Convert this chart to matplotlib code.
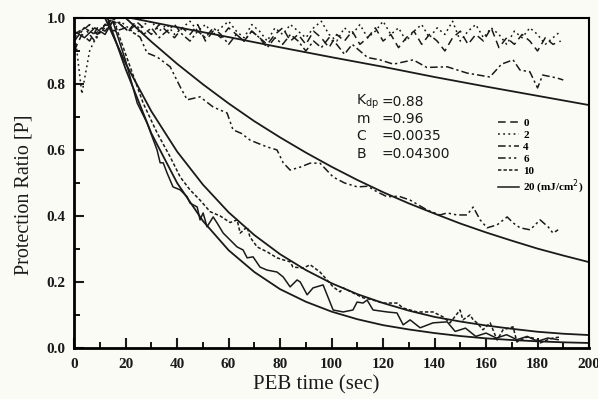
import numpy as np
import matplotlib
matplotlib.use('Agg')
import matplotlib.pyplot as plt
from matplotlib.ticker import MultipleLocator

# ------------------------------------------------------------------------
#### measured data (PEB time in sec, protection ratio)
t_0 = [0, 3, 6, 9, 12, 15, 18, 21, 24, 27, 30, 33, 36, 39, 42, 45, 48, 51, 54, 57,
       60, 63, 66, 69, 72, 75, 78, 81, 84, 87, 90, 93, 96, 99, 102, 105, 108, 111, 114, 117,
       120, 123, 126, 129, 132, 135, 138, 141, 144, 147, 150, 153, 156, 159, 162, 165, 168, 171, 174, 177,
       180, 183, 186, 189]
p_0 = [0.90, 0.95, 0.93, 0.97, 0.96, 0.99, 0.98, 0.96, 0.99, 0.97,
       0.95, 0.98, 0.96, 0.94, 0.97, 0.95, 0.98, 0.93, 0.96, 0.94,
       0.97, 0.95, 0.93, 0.96, 0.94, 0.92, 0.95, 0.97, 0.93, 0.95,
       0.92, 0.96, 0.94, 0.91, 0.95, 0.93, 0.96, 0.92, 0.94, 0.97,
       0.93, 0.95, 0.91, 0.94, 0.96, 0.92, 0.95, 0.93, 0.90, 0.94,
       0.96, 0.92, 0.95, 0.93, 0.97, 0.91, 0.94, 0.92, 0.95, 0.93,
       0.90, 0.94, 0.92, 0.93]

t_2 = t_0
p_2 = [0.97, 0.77, 0.90, 0.95, 0.98, 0.96, 0.99, 0.97, 0.95, 0.98,
       0.99, 0.96, 0.98, 0.95, 0.97, 0.99, 0.96, 0.98, 0.95, 0.97,
       0.99, 0.96, 0.94, 0.98, 0.96, 0.93, 0.97, 0.95, 0.98, 0.96,
       0.94, 0.97, 0.99, 0.95, 0.93, 0.97, 0.95, 0.98, 0.94, 0.96,
       0.99, 0.95, 0.97, 0.93, 0.96, 0.98, 0.94, 0.97, 0.95, 0.99,
       0.93, 0.96, 0.98, 0.94, 0.97, 0.95, 0.92, 0.96, 0.94, 0.97,
       0.95, 0.92, 0.94, 0.96]

t_4 = [0, 3, 6, 9, 12, 15, 18, 21, 24, 27, 30, 33, 36, 39, 42, 45, 48, 51, 54, 57,
       60, 63, 66, 69, 72, 75, 78, 81, 84, 87, 90, 93, 96, 99, 102, 105, 108, 111, 114,
       118.8, 124, 131.7, 137, 144.9, 152.6, 161.5, 166, 170.5, 173.2, 177, 180, 182, 187.6, 190]
p_4 = [0.93, 0.96, 0.98, 0.95, 0.97, 1.00, 0.98, 0.96, 0.98, 0.95,
       0.97, 0.94, 0.96, 0.98, 0.95, 0.93, 0.96, 0.94, 0.97, 0.95,
       0.92, 0.95, 0.93, 0.96, 0.94, 0.91, 0.94, 0.92, 0.95, 0.93,
       0.90, 0.93, 0.91, 0.94, 0.92, 0.89, 0.92, 0.90, 0.88,
       0.873, 0.86, 0.873, 0.85, 0.852, 0.833, 0.821, 0.86, 0.873, 0.842, 0.837, 0.788, 0.827, 0.818, 0.812]

t_6 = [0, 4, 8, 12, 16, 20, 25.6, 28.3, 32.2, 37.3, 41.2, 43.9, 48.9, 54, 59.4, 61.7,
       65, 68.3, 71.1, 75, 78.8, 81.2, 83.9, 87.8, 91.7, 95.5, 100.6, 105, 110, 114, 117.7, 121.6,
       126, 130.5, 137.1, 142.1, 144.9, 148.7, 152.6, 155, 157.7, 160.4, 164.3, 168.2, 170.5, 173.2,
       177.1, 181, 184.1, 186, 188]
p_6 = [0.95, 0.97, 0.93, 0.98, 0.96, 0.97, 0.942, 0.894, 0.882, 0.852, 0.791, 0.752, 0.761, 0.730, 0.712, 0.661,
       0.65, 0.630, 0.621, 0.609, 0.600, 0.561, 0.539, 0.548, 0.56, 0.56, 0.518, 0.50, 0.488, 0.49, 0.473, 0.458,
       0.46, 0.448, 0.418, 0.403, 0.409, 0.403, 0.403, 0.427, 0.388, 0.364, 0.373, 0.397, 0.379, 0.364,
       0.358, 0.388, 0.367, 0.348, 0.358]

t_10 = [0, 4, 8, 12, 15, 20, 26.8, 32.2, 37.3, 41.2, 45, 48.9, 52.8, 56.7, 60.6, 63.3,
        64.5, 67.2, 68.3, 71.1, 75, 78.8, 81.2, 83.9, 85, 88.9, 91.7, 95.5, 100.6, 103.3, 104.5, 108.3,
        112.2, 116.1, 120, 125.4, 127.8, 133.2, 139.4, 143.3, 146, 149.9, 151, 153.8, 155, 156.5,
        158.8, 161.6, 164.3, 166.6, 170.5, 172, 175.9, 178.3, 181, 183.7, 186, 188.7]
p_10 = [0.94, 0.97, 0.95, 0.98, 1.00, 0.89, 0.742, 0.652, 0.579, 0.518, 0.479, 0.448, 0.413, 0.40, 0.38, 0.388,
        0.348, 0.367, 0.336, 0.306, 0.291, 0.273, 0.267, 0.261, 0.245, 0.242, 0.252, 0.23, 0.185, 0.17, 0.182, 0.167,
        0.152, 0.145, 0.136, 0.136, 0.121, 0.109, 0.109, 0.094, 0.076, 0.115, 0.085, 0.1, 0.085, 0.076,
        0.055, 0.076, 0.024, 0.055, 0.064, 0.018, 0.033, 0.03, 0.015, 0.024, 0.03, 0.033]

t_20 = [0, 4, 8, 12, 15, 20, 24.5, 28.3, 32.2, 33.4, 34.6, 36.1, 38.4, 41.2, 43.9, 45,
        47.8, 48.9, 50.1, 51.6, 54, 55.5, 57.9, 60.6, 63.3, 65.6, 67.2, 69.5, 72.2, 74.9, 78.8, 81.2,
        83.9, 86.6, 87.8, 90.5, 92.8, 96.7, 100.6, 104.5, 108.3, 109.9, 112.2, 113.8, 116.1, 121.6,
        125.4, 127.8, 130.5, 134.4, 139.4, 144.9, 148, 152, 156, 160, 164, 168, 172, 176, 180, 184, 188]
p_20 = [0.96, 0.94, 0.97, 0.95, 0.99, 0.87, 0.742, 0.682, 0.6, 0.561, 0.561, 0.53, 0.488, 0.479, 0.458, 0.439,
        0.427, 0.388, 0.409, 0.367, 0.397, 0.379, 0.348, 0.327, 0.306, 0.297, 0.273, 0.276, 0.245, 0.236, 0.23, 0.215,
        0.185, 0.206, 0.20, 0.161, 0.182, 0.191, 0.115, 0.109, 0.115, 0.139, 0.136, 0.145, 0.115, 0.109,
        0.106, 0.07, 0.085, 0.061, 0.076, 0.079, 0.05, 0.06, 0.035, 0.045, 0.03, 0.04, 0.025, 0.035, 0.02, 0.03, 0.025]

# fitted curves (solid)
tf_4 = [22, 40, 60, 80, 100, 120, 140, 160, 180, 200]
pf_4 = [1.0, 0.972, 0.942, 0.911, 0.881, 0.852, 0.821, 0.792, 0.764, 0.736]

tf_6 = [20, 30, 40, 50, 60, 70, 80, 90, 100, 110, 120, 130, 140, 150, 160, 170, 180, 190, 200]
pf_6 = [1.0, 0.928, 0.861, 0.799, 0.741, 0.687, 0.638, 0.592, 0.549, 0.509,
        0.472, 0.438, 0.407, 0.377, 0.35, 0.325, 0.301, 0.28, 0.26]

tf_10 = [12, 20, 30, 40, 50, 60, 70, 80, 90, 100, 110, 120, 130, 140, 150, 160, 170, 180, 190, 200]
pf_10 = [1.0, 0.862, 0.717, 0.595, 0.495, 0.411, 0.342, 0.284, 0.236, 0.196,
         0.163, 0.136, 0.113, 0.094, 0.08, 0.068, 0.058, 0.049, 0.043, 0.039]

tf_20 = [13, 20, 30, 40, 50, 60, 70, 80, 90, 100, 110, 120, 130, 140, 150, 160, 170, 180, 190, 200]
pf_20 = [1.0, 0.845, 0.65, 0.50, 0.385, 0.296, 0.23, 0.178, 0.14, 0.11,
         0.087, 0.069, 0.056, 0.045, 0.036, 0.029, 0.024, 0.02, 0.017, 0.015]

params = ['K$_{\\rm dp}$', 'm', 'C', 'B']
param_vals = ['=0.88', '=0.96', '=0.0035', '=0.04300']


# ------------------------------------------------------------------------
bg = '#fbfbf6'
ink = '#1a1a1a'
fig = plt.figure(figsize=(5.98, 3.99), dpi=100, facecolor=bg)
ax = fig.add_axes([0.124, 0.128, 0.861, 0.827], facecolor=bg)

styles = [(0, (5, 3)), (0, (1.2, 2.2)), (0, (5, 2, 1.5, 2)),
          (0, (5, 2, 1.5, 2, 1.5, 2)), (0, (2.2, 1.4)), '-']
labels = ['0', '2', '4', '6', '10', '20 (mJ/cm$^2$)']
series = [(t_0, p_0), (t_2, p_2), (t_4, p_4), (t_6, p_6), (t_10, p_10), (t_20, p_20)]
for (tt, pp), ls, lab in zip(series, styles, labels):
    ax.plot(tt, pp, color=ink, linestyle=ls, linewidth=1.1, label=lab)

for tt, pp in [(tf_4, pf_4), (tf_6, pf_6), (tf_10, pf_10), (tf_20, pf_20)]:
    ax.plot(tt, pp, color=ink, linewidth=1.3)

ax.set_xlim(0, 200)
ax.set_ylim(0, 1.0)
ax.xaxis.set_major_locator(MultipleLocator(20))
ax.xaxis.set_minor_locator(MultipleLocator(10))
ax.yaxis.set_major_locator(MultipleLocator(0.2))
ax.yaxis.set_minor_locator(MultipleLocator(0.1))
ax.yaxis.set_major_formatter(matplotlib.ticker.FormatStrFormatter('%.1f'))
ax.tick_params(which='major', direction='in', length=7, width=1.5, top=False, right=False,
               labelsize=11, colors=ink)
ax.tick_params(axis='x', which='major', pad=7)
ax.tick_params(axis='y', which='major', pad=6)
ax.tick_params(which='minor', direction='in', length=4, width=1.3, top=False, right=False)
for lab in ax.get_xticklabels() + ax.get_yticklabels():
    lab.set_family('Liberation Serif')
    lab.set_fontweight('bold')
for side in ['left', 'bottom']:
    ax.spines[side].set_linewidth(2.0)
for side in ['top', 'right']:
    ax.spines[side].set_linewidth(1.5)

ax.set_xlabel('PEB time (sec)', family='Liberation Serif', fontsize=15, color=ink)
ax.set_ylabel('Protection Ratio [P]', family='Liberation Serif', fontsize=14.5, color=ink)
ax.xaxis.set_label_coords(0.47, -0.083)
ax.yaxis.set_label_coords(-0.078, 0.464)

for i, (name, val) in enumerate(zip(params, param_vals)):
    y = 0.745 - i * 0.052
    ax.text(0.548, y, name, transform=ax.transAxes, fontsize=10, color=ink, va='center',
            family='DejaVu Sans')
    ax.text(0.596, y, val, transform=ax.transAxes, fontsize=10, color=ink, va='center',
            family='DejaVu Sans')

leg = ax.legend(loc='upper left', bbox_to_anchor=(0.803, 0.727), frameon=False,
                handlelength=1.9, handletextpad=0.4, labelspacing=0.2,
                prop={'family': 'Liberation Serif', 'size': 8, 'weight': 'bold'})

fig.savefig('out.png', dpi=100, facecolor=bg)
